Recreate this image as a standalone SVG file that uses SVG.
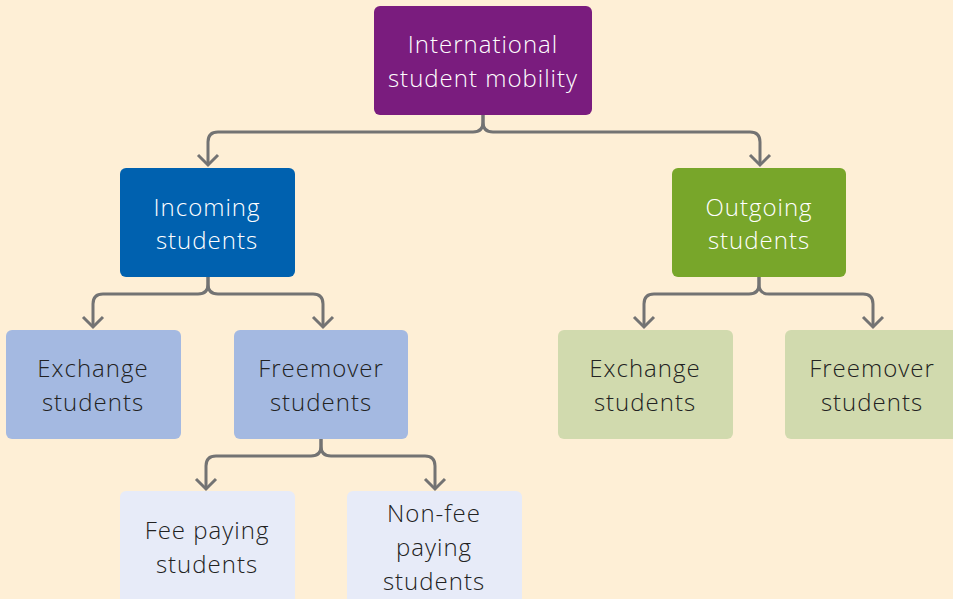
<svg xmlns="http://www.w3.org/2000/svg" width="953" height="599" viewBox="0 0 953 599">
<defs>
<style>
.bg{fill:#FEEFD6}
.t{font-family:"Open Sans","Liberation Sans",sans-serif;font-size:24px;font-weight:300;letter-spacing:1px;text-anchor:middle}
.w{fill:#FFFFFF}
.d{fill:#222222}
.c{fill:none;stroke:#737373;stroke-width:3}
</style>
</defs>
<rect class="bg" x="0" y="0" width="953" height="599"/>
<g id="connectors" class="c">
<path d="M483 115 V122 Q483 132 473 132 H218 Q208 132 208 142 V165"/>
<path d="M483 115 V122 Q483 132 493 132 H750 Q760 132 760 142 V165"/>
<path d="M198 155 L208 165 L218 155"/>
<path d="M750 155 L760 165 L770 155"/>
<path d="M208 277 V284 Q208 294 198 294 H103 Q93 294 93 304 V327"/>
<path d="M208 277 V284 Q208 294 218 294 H313 Q323 294 323 304 V327"/>
<path d="M83 317 L93 327 L103 317"/>
<path d="M313 317 L323 327 L333 317"/>
<path d="M759 277 V284 Q759 294 749 294 H654 Q644 294 644 304 V327"/>
<path d="M759 277 V284 Q759 294 769 294 H863 Q873 294 873 304 V327"/>
<path d="M634 317 L644 327 L654 317"/>
<path d="M863 317 L873 327 L883 317"/>
<path d="M321 439 V446 Q321 456 311 456 H216 Q206 456 206 466 V489"/>
<path d="M321 439 V446 Q321 456 331 456 H425 Q435 456 435 466 V489"/>
<path d="M196 479 L206 489 L216 479"/>
<path d="M425 479 L435 489 L445 479"/>
</g>
<g id="n-ism">
<rect x="374" y="6" width="218" height="109" rx="6" fill="#7A1C7E"/>
<text class="t w" x="483" y="53">International</text>
<text class="t w" x="483" y="87">student mobility</text>
</g>
<g id="n-incoming">
<rect x="120" y="168" width="175" height="109" rx="6" fill="#0061AF"/>
<text class="t w" x="207" y="216">Incoming</text>
<text class="t w" x="207" y="249">students</text>
</g>
<g id="n-outgoing">
<rect x="672" y="168" width="174" height="109" rx="6" fill="#78A62A"/>
<text class="t w" x="759" y="216">Outgoing</text>
<text class="t w" x="759" y="249">students</text>
</g>
<g id="n-in-exchange">
<rect x="6" y="330" width="175" height="109" rx="6" fill="#A4B9E1"/>
<text class="t d" x="93" y="377">Exchange</text>
<text class="t d" x="93" y="411">students</text>
</g>
<g id="n-in-freemover">
<rect x="234" y="330" width="174" height="109" rx="6" fill="#A4B9E1"/>
<text class="t d" x="321" y="377">Freemover</text>
<text class="t d" x="321" y="411">students</text>
</g>
<g id="n-out-exchange">
<rect x="558" y="330" width="175" height="109" rx="6" fill="#D1DAAE"/>
<text class="t d" x="645" y="377">Exchange</text>
<text class="t d" x="645" y="411">students</text>
</g>
<g id="n-out-freemover">
<rect x="785" y="330" width="175" height="109" rx="6" fill="#D1DAAE"/>
<text class="t d" x="872" y="377">Freemover</text>
<text class="t d" x="872" y="411">students</text>
</g>
<g id="n-fee">
<rect x="120" y="491" width="175" height="115" rx="6" fill="#E7EBF8"/>
<text class="t d" x="207" y="539">Fee paying</text>
<text class="t d" x="207" y="573">students</text>
</g>
<g id="n-nonfee">
<rect x="347" y="491" width="175" height="115" rx="6" fill="#E7EBF8"/>
<text class="t d" x="434" y="522">Non-fee</text>
<text class="t d" x="434" y="556">paying</text>
<text class="t d" x="434" y="590">students</text>
</g>
</svg>
